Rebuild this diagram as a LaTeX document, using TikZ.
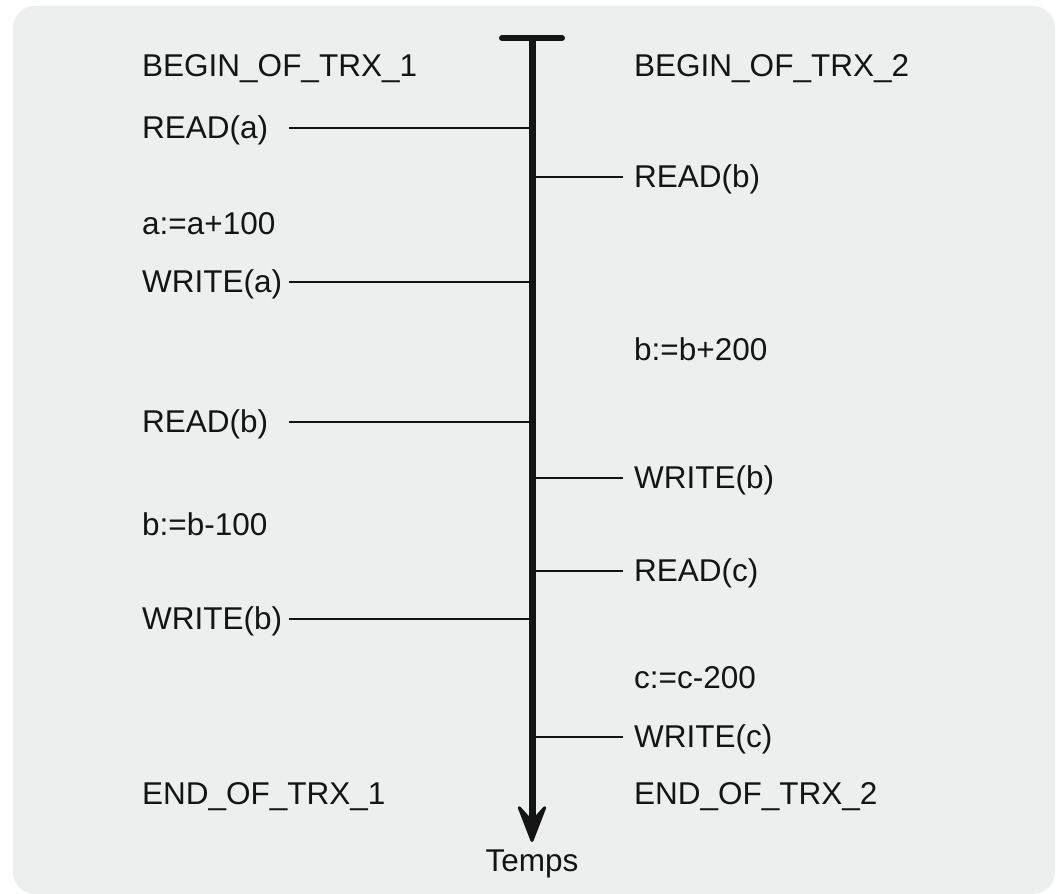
\documentclass[tikz,border=0pt]{standalone}
\usepackage{fontspec}
\setmainfont{Liberation Sans}
\usetikzlibrary{arrows.meta}
\definecolor{bgpanel}{RGB}{237,238,238}
\definecolor{inkc}{RGB}{20,20,20}
\begin{document}
\begin{tikzpicture}[x=1pt,y=1pt,
  lbl/.style={anchor=base west,inner sep=0pt,text=inkc,font=\fontsize{31.5}{36}\selectfont},
  tick/.style={draw=inkc,line width=2pt},
  timeaxis/.style={draw=inkc,line width=7pt},
  topbar/.style={draw=inkc,line width=6pt,line cap=round}]
\useasboundingbox (0,0) rectangle (1058,894);
\fill[bgpanel,rounded corners=22pt] (13,0) rectangle (1055,888);
% time axis
\coordinate (axtop) at (532,856);
\coordinate (axbot) at (532,52);
\coordinate (barL) at (502,856);
\coordinate (barR) at (562,856);
\draw[timeaxis,-{Stealth[length=44pt,width=34pt,inset=19pt,line width=3pt,round]}] (axtop) -- (axbot);
\draw[topbar] (barL) -- (barR);
\node[lbl,anchor=base] (temps) at (532,22) {Temps};
% left transaction
\node[lbl] (b1) at (142,817) {BEGIN\_OF\_TRX\_1};
\node[lbl] (ra) at (142,755.5) {READ(a)};
\node[lbl] (aa) at (142,659) {a:=a+100};
\node[lbl] (wa) at (142,601.5) {WRITE(a)};
\node[lbl] (rbl) at (142,461.5) {READ(b)};
\node[lbl] (bm) at (142,358) {b:=b-100};
\node[lbl] (wbl) at (142,264.5) {WRITE(b)};
\node[lbl] (e1) at (142,89) {END\_OF\_TRX\_1};
% right transaction
\node[lbl] (b2) at (634,817) {BEGIN\_OF\_TRX\_2};
\node[lbl] (rbr) at (634,706.5) {READ(b)};
\node[lbl] (bp) at (634,533) {b:=b+200};
\node[lbl] (wbr) at (634,405.5) {WRITE(b)};
\node[lbl] (rc) at (634,312.5) {READ(c)};
\node[lbl] (cc) at (634,205) {c:=c-200};
\node[lbl] (wc) at (634,146.5) {WRITE(c)};
\node[lbl] (e2) at (634,89) {END\_OF\_TRX\_2};
% connector ends
\coordinate (raS) at (289,766);  \coordinate (raA) at (532,766);
\coordinate (waS) at (289,612);  \coordinate (waA) at (532,612);
\coordinate (rblS) at (289,472); \coordinate (rblA) at (532,472);
\coordinate (wblS) at (289,275); \coordinate (wblA) at (532,275);
\coordinate (rbrA) at (532,717); \coordinate (rbrE) at (623,717);
\coordinate (wbrA) at (532,416); \coordinate (wbrE) at (623,416);
\coordinate (rcA) at (532,323);  \coordinate (rcE) at (623,323);
\coordinate (wcA) at (532,157);  \coordinate (wcE) at (623,157);
\draw[tick] (raS) -- (raA);
\draw[tick] (waS) -- (waA);
\draw[tick] (rblS) -- (rblA);
\draw[tick] (wblS) -- (wblA);
\draw[tick] (rbrA) -- (rbrE);
\draw[tick] (wbrA) -- (wbrE);
\draw[tick] (rcA) -- (rcE);
\draw[tick] (wcA) -- (wcE);
\end{tikzpicture}
\end{document}
